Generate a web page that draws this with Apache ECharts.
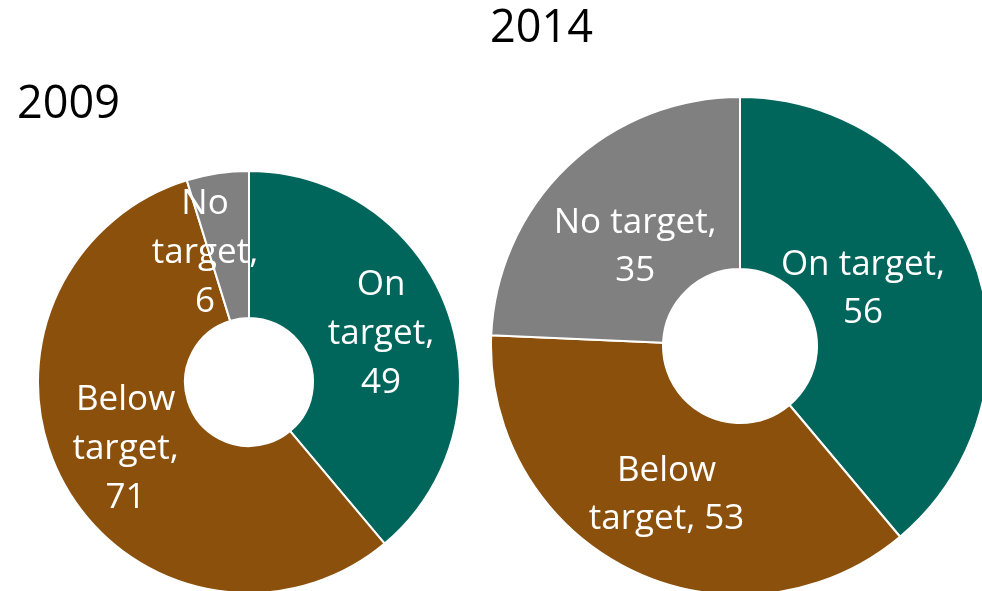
<!DOCTYPE html>
<html>
<head>
<meta charset="utf-8">
<script src="https://cdn.jsdelivr.net/npm/echarts@6/dist/echarts.min.js"></script>
<style>
  html, body { margin: 0; padding: 0; background: #fff; }
  #chart { width: 982px; height: 591px; }
</style>
</head>
<body>
<div id="chart"></div>
<script>
// Data
var categories = ['On target', 'Below target', 'No target'];
var values2009 = [49, 71, 6];
var values2014 = [56, 53, 35];
var labels2009 = ['On\ntarget,\n49', 'Below\ntarget,\n71', 'No\ntarget,\n6'];
var labels2014 = ['On target,\n56', 'Below\ntarget, 53', 'No target,\n35'];
var colors = ['#00665C', '#8A500C', '#808080'];

// Small label nudges: [extra gap above, right padding, left padding]
var nudges2009 = [[0, 0, 0], [0, 0, 0], [20, 46, 0]];
var nudges2014 = [[0, 66, 0], [0, 0, 0], [42, 0, 20]];

var buildData = function(values, labels, nudges) {
    return categories.map(function(name, i) {
        var n = nudges[i];
        var text = labels[i];
        var rich = {};
        if (n[0] > 0) {
            text = '{gap| }\n' + text;
            rich.gap = { fontSize: 1, lineHeight: n[0] };
        }
        return {
            name: name,
            value: values[i],
            labelText: text,
            label: { padding: [0, n[1], 0, n[2]], rich: rich }
        };
    });
};

var chart = echarts.init(document.getElementById('chart'));

var pieSeries = function(center, radius, values, labels, nudges, fontSize, lineHeight) {
    return {
        type: 'pie',
        center: center,
        radius: radius,
        startAngle: 90,
        clockwise: true,
        animation: false,
        color: colors,
        itemStyle: {
            borderColor: '#ffffff',
            borderWidth: 2
        },
        label: {
            show: true,
            position: 'inside',
            color: '#ffffff',
            fontFamily: '"Open Sans", sans-serif',
            fontSize: fontSize,
            lineHeight: lineHeight,
            formatter: function(p) { return p.data.labelText; }
        },
        labelLine: { show: false },
        emphasis: { disabled: true },
        data: buildData(values, labels, nudges)
    };
};

chart.setOption({
    textStyle: { fontFamily: '"Open Sans", sans-serif' },
    title: [
        {
            text: '2009',
            left: 12,
            top: 78,
            textStyle: { fontSize: 45, fontWeight: 'normal', color: '#000', fontFamily: '"Open Sans", sans-serif' }
        },
        {
            text: '2014',
            left: 485,
            top: 2,
            textStyle: { fontSize: 45, fontWeight: 'normal', color: '#000', fontFamily: '"Open Sans", sans-serif' }
        }
    ],
    series: [
        pieSeries([249, 382], [64, 211], values2009, labels2009, nudges2009, 35, 49),
        pieSeries([740, 346], [77, 249], values2014, labels2014, nudges2014, 35, 48)
    ]
});
</script>
</body>
</html>
